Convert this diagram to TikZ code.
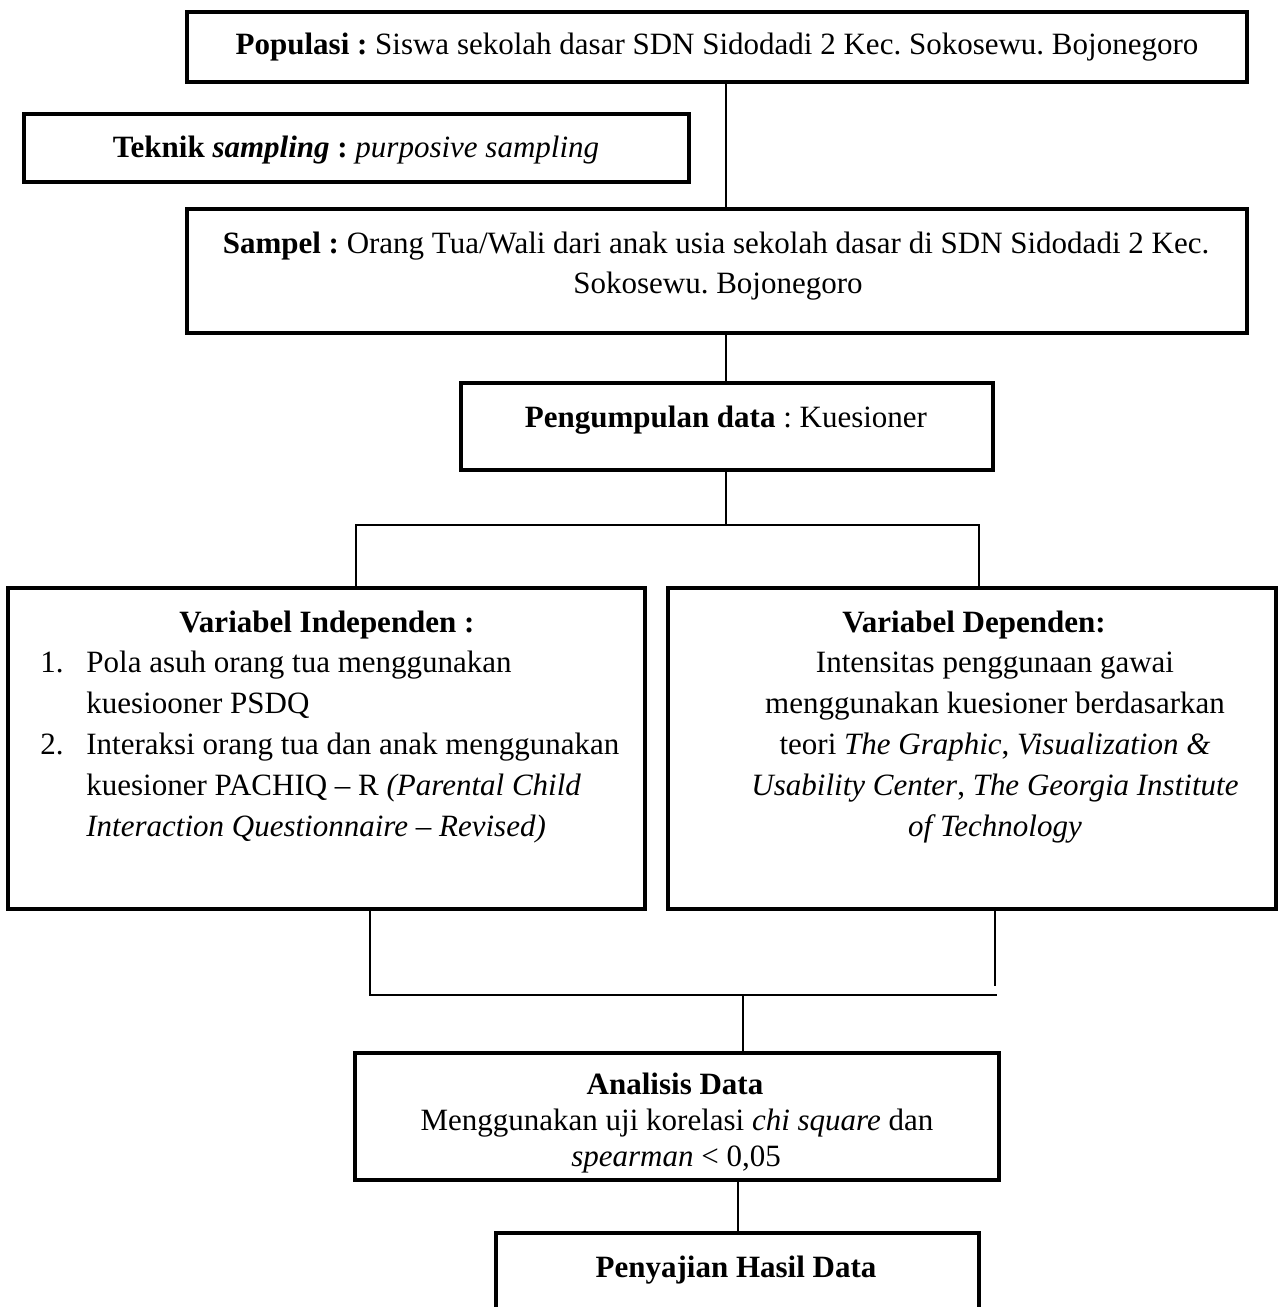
\documentclass[tikz,border=0pt]{standalone}
\usepackage{fontspec}
\setmainfont{Liberation Serif}
\frenchspacing
\begin{document}
\begin{tikzpicture}[x=0.5pt,y=-0.5pt,
  box/.style={draw=black, line width=1.6pt, rectangle, inner sep=0pt, outer sep=0pt},
  conn/.style={draw=black, line width=0.75pt},
  txt/.style={inner sep=0pt, anchor=base, font=\fontsize{15.5}{18}\selectfont},
  txtl/.style={txt, anchor=base west}]
\useasboundingbox (0,0) rectangle (1279,1307);
\clip (0,0) rectangle (1279,1307);
\fill[white] (0,0) rectangle (1279,1307);

% boxes
\node[box, minimum width=530pt, minimum height=35pt] (pop) at (717,47) {};
\node[box, minimum width=332.5pt, minimum height=34pt] (tek) at (356.5,148) {};
\node[box, minimum width=530pt, minimum height=62pt] (sam) at (717,271) {};
\node[box, minimum width=266pt, minimum height=43.5pt] (pen) at (727,426.5) {};
\node[box, minimum width=318.5pt, minimum height=160.5pt] (vi) at (326.5,748.5) {};
\node[box, minimum width=304pt, minimum height=160.5pt] (vd) at (972,748.5) {};
\node[box, minimum width=322pt, minimum height=63.5pt] (ana) at (677,1116.5) {};
\node[box, minimum width=241.5pt, minimum height=53.5pt] (peny) at (737.5,1286.5) {};

% connectors
\coordinate (sp) at (726,0);
\draw[conn] (pop.south -| sp) -- (sam.north -| sp);
\draw[conn] (sam.south -| sp) -- (pen.north -| sp);
\coordinate (jl) at (356,525);
\coordinate (jr) at (979,525);
\draw[conn] (pen.south -| sp) -- (sp |- jl);
\draw[conn] (vi.north -| jl) -- (jl) -- (jr) -- (vd.north -| jr);
\coordinate (ml) at (370,995);
\coordinate (mr) at (997,995);
\coordinate (mre) at (995,986);
\coordinate (mc) at (743,995);
\draw[conn] (vi.south -| ml) -- (ml) -- (mr);
\draw[conn] (vd.south -| mre) -- (mre);
\draw[conn] (mc) -- (ana.north -| mc);
\coordinate (ac) at (738,0);
\draw[conn] (ana.south -| ac) -- (peny.north -| ac);

% texts
\node[txt] (tpop) at (717,54) {\textbf{Populasi :} Siswa sekolah dasar SDN Sidodadi 2 Kec. Sokosewu. Bojonegoro};
\node[txt] (ttek) at (356,157) {\textbf{Teknik \textit{sampling} :} \textit{purposive sampling}};
\node[txt] (tsam1) at (716,253) {\textbf{Sampel :} Orang Tua/Wali dari anak usia sekolah dasar di SDN Sidodadi 2 Kec.};
\node[txt] (tsam2) at (718,293) {Sokosewu. Bojonegoro};
\node[txt] (tpen) at (726,427) {\textbf{Pengumpulan data} : Kuesioner};

\node[txt] (tvi) at (327,632) {\textbf{Variabel Independen :}};
\node[txtl] (vn1) at (40,672) {1.};
\node[txtl] (vi1) at (86,672) {Pola asuh orang tua menggunakan};
\node[txtl] (vi2) at (86,713) {kuesiooner PSDQ};
\node[txtl] (vn2) at (40,754) {2.};
\node[txtl] (vi3) at (86,754) {Interaksi orang tua dan anak menggunakan};
\node[txtl] (vi4) at (86,795) {kuesioner PACHIQ – R \textit{(Parental Child}};
\node[txtl] (vi5) at (86,836) {\textit{Interaction Questionnaire – Revised)}};

\node[txt] (tvd) at (974,632) {\textbf{Variabel Dependen:}};
\node[txt] (vd1) at (995,672) {Intensitas penggunaan gawai};
\node[txt] (vd2) at (995,713) {menggunakan kuesioner berdasarkan};
\node[txt] (vd3) at (995,754) {teori \textit{The Graphic}, \textit{Visualization \&}};
\node[txt] (vd4) at (995,795) {\textit{Usability Center}, \textit{The Georgia Institute}};
\node[txt] (vd5) at (995,836) {\textit{of Technology}};

\node[txt] (tana) at (675,1094) {\textbf{Analisis Data}};
\node[txt] (an1) at (677,1130) {Menggunakan uji korelasi \textit{chi square} dan};
\node[txt] (an2) at (676,1166) {\textit{spearman} < 0,05};

\node[txt] (tpeny) at (736,1277) {\textbf{Penyajian Hasil Data}};
\end{tikzpicture}
\end{document}
